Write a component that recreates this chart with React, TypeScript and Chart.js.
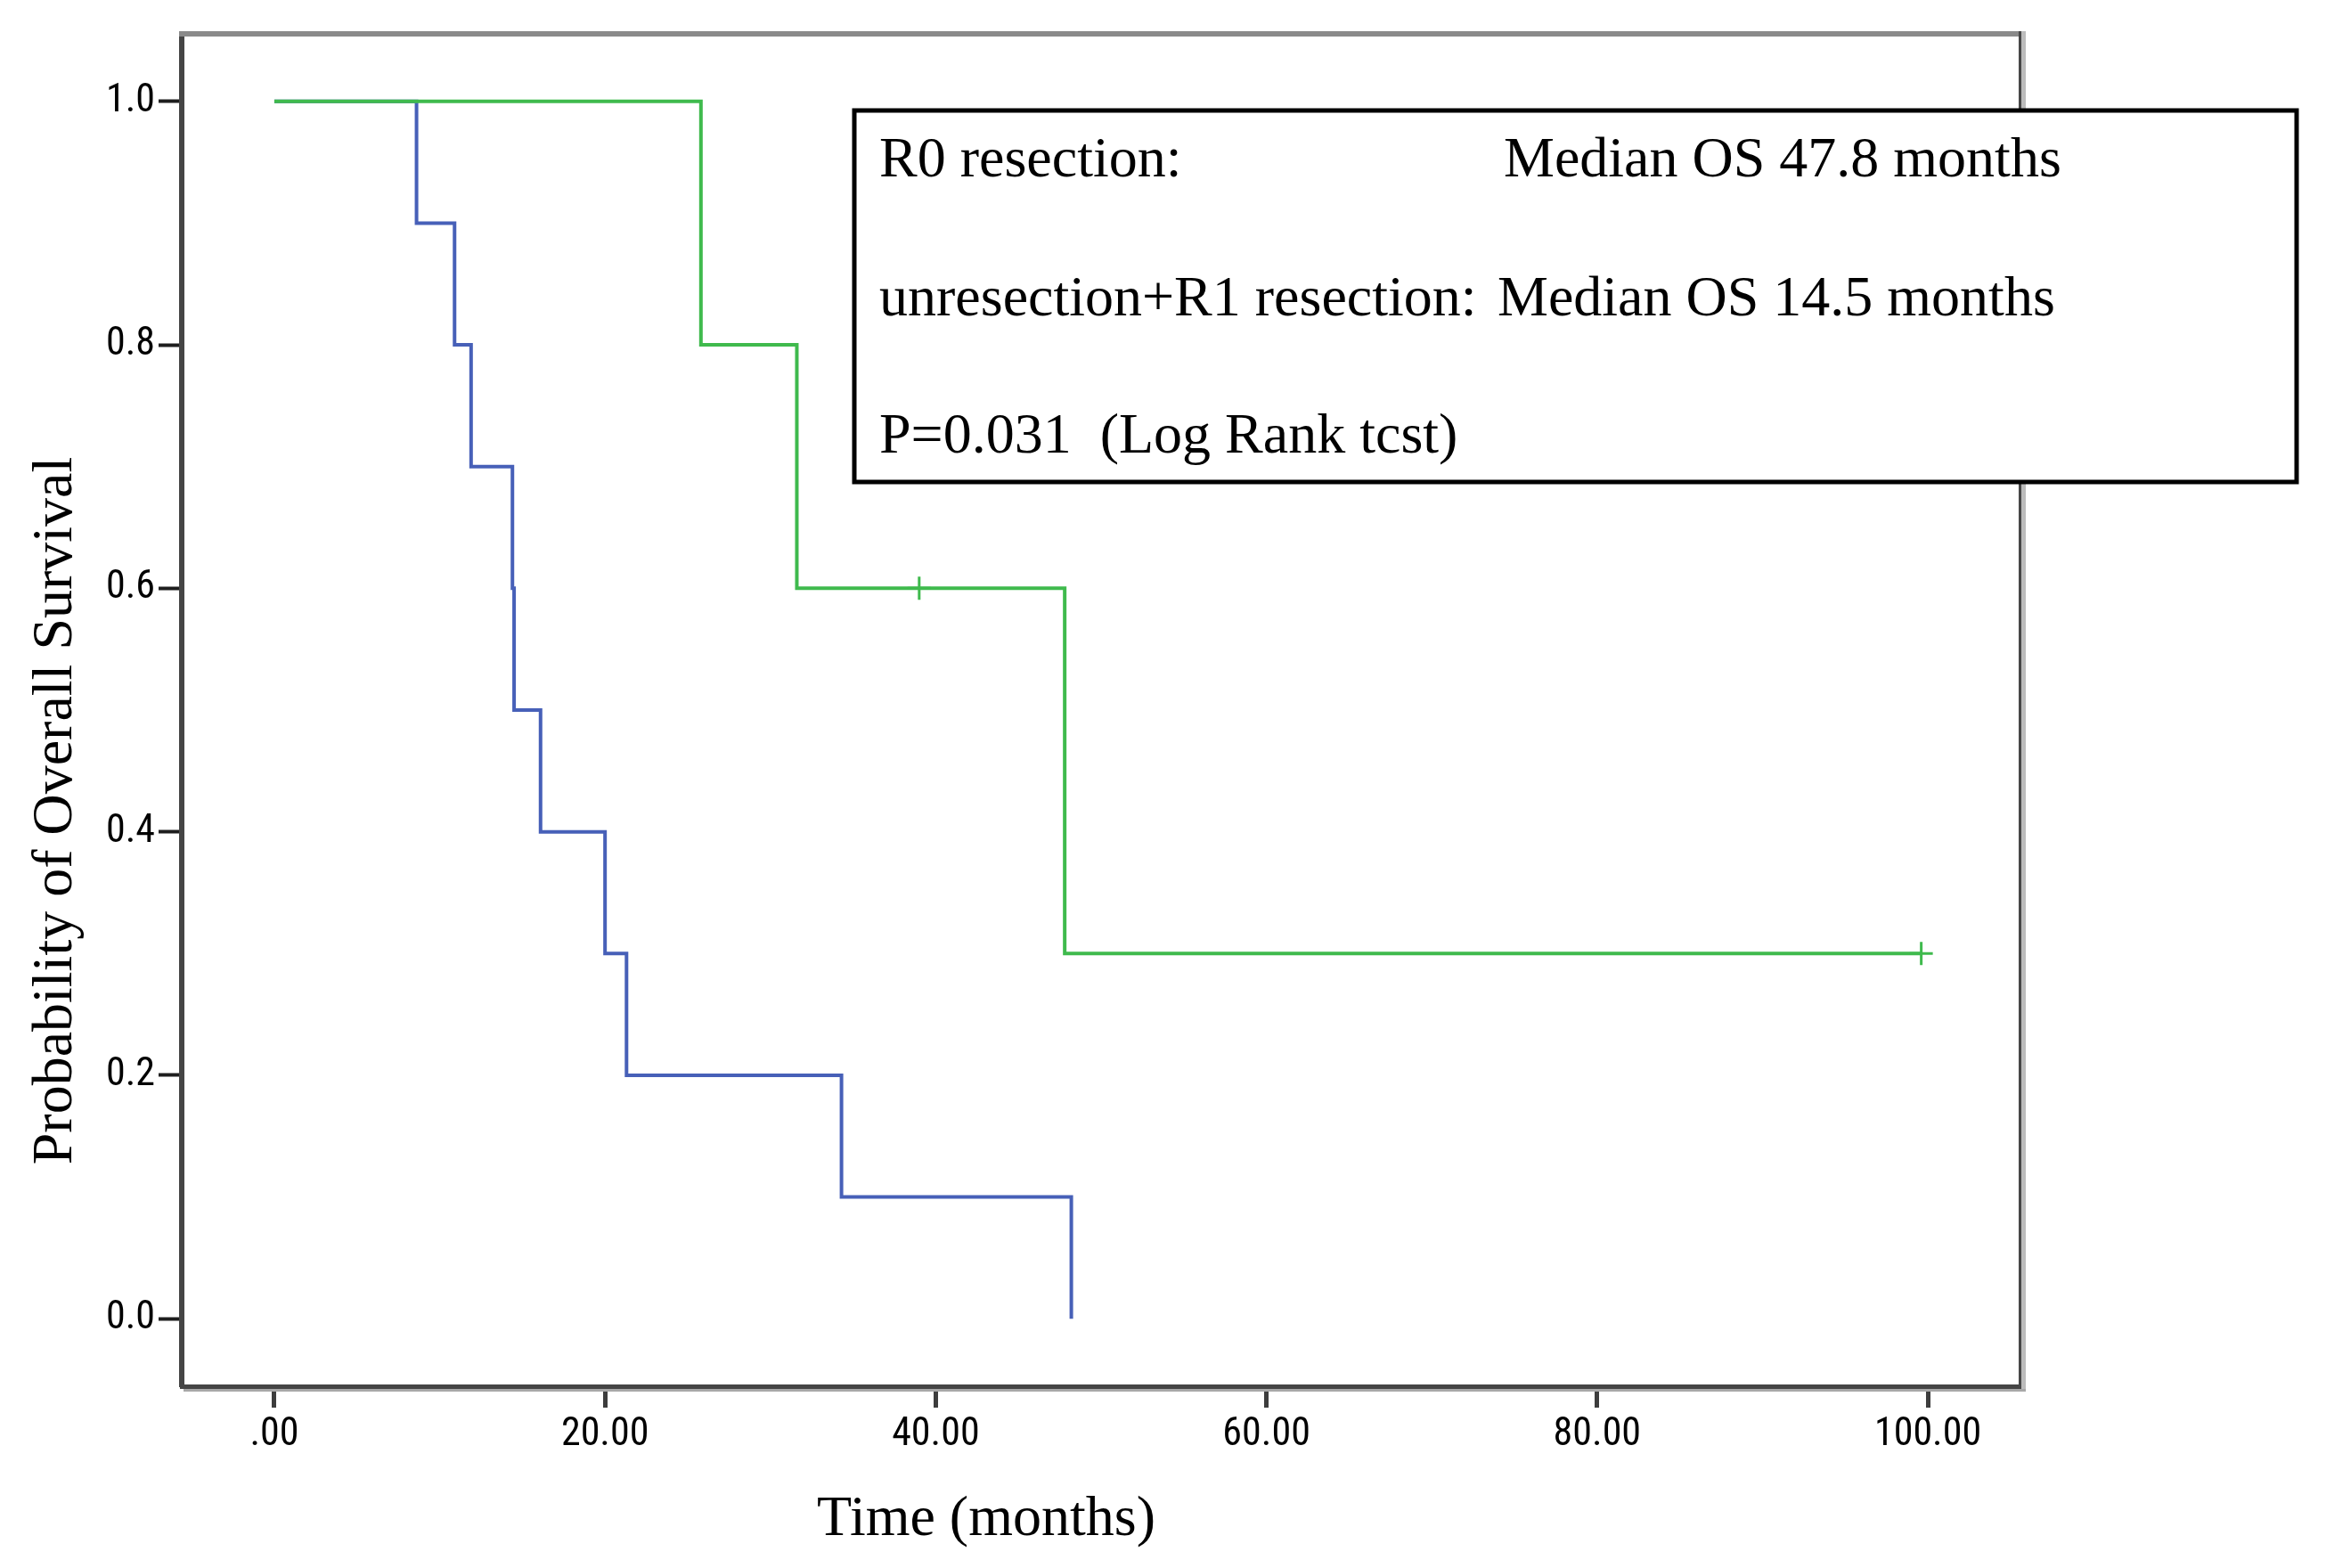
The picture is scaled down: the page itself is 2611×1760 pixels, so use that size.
import React, { useEffect, useRef } from 'react';
import { Chart, registerables } from 'chart.js';

Chart.register(...registerables);

// ---- Data ----
const r0Times = [0, 25.8, 31.6, 39.0, 47.8, 99.6];
const r0Survival = [1.0, 0.8, 0.6, 0.6, 0.3, 0.3];
const r0CensorTimes = [39.0, 99.6];
const r0CensorSurvival = [0.6, 0.3];

const otherTimes = [0, 8.6, 10.9, 11.9, 14.4, 14.5, 16.1, 20.0, 21.3, 34.3, 48.2];
const otherSurvival = [1.0, 0.9, 0.8, 0.7, 0.6, 0.5, 0.4, 0.3, 0.2, 0.1, 0.0];

const xTickValues = [0, 20, 40, 60, 80, 100];
const xTickLabels = ['.00', '20.00', '40.00', '60.00', '80.00', '100.00'];
const yTickValues = [0, 0.2, 0.4, 0.6, 0.8, 1.0];
const yTickLabels = ['0.0', '0.2', '0.4', '0.6', '0.8', '1.0'];

const legendLabels = ['R0 resection:', 'unresection+R1 resection:', 'P=0.031  (Log Rank tcst)'];
const legendValues = ['Median OS 47.8 months', 'Median OS 14.5 months', ''];

const xTitle = 'Time (months)';
const yTitle = 'Probability of Overall Survival';

const GREEN = '#3fba4d';
const BLUE = '#4760b8';
const SERIF = '"Liberation Serif", "Times New Roman", serif';
const NARROW = '"Liberation Sans Narrow", "Arial Narrow", "Roboto Condensed", "DejaVu Sans Condensed", sans-serif';

const toPoints = (xs: number[], ys: number[]) => xs.map((x, i) => ({ x, y: ys[i] }));

const overlayPlugin = {
  id: 'overlay',
  afterDraw(chart: any) {
    const { ctx, chartArea: a } = chart;
    ctx.save();
    // top frame line
    ctx.fillStyle = '#8a8a8a';
    ctx.fillRect(a.left - 3, a.top - 3, a.right - a.left + 6, 6);
    // right frame line (dark + light shade)
    ctx.fillStyle = '#474747';
    ctx.fillRect(a.right - 2, a.top - 3, 3, a.bottom - a.top + 4);
    ctx.fillStyle = '#bcbcbc';
    ctx.fillRect(a.right + 1, a.top - 3, 5, a.bottom - a.top + 8);
    // bottom shade
    ctx.fillStyle = '#a8a8a8';
    ctx.fillRect(a.left + 2, a.bottom + 3, a.right - a.left + 4, 3);

    // legend / annotation box
    ctx.fillStyle = '#ffffff';
    ctx.fillRect(959, 124, 1619, 417);
    ctx.strokeStyle = '#000000';
    ctx.lineWidth = 5;
    ctx.strokeRect(959, 124, 1619, 417);

    ctx.fillStyle = '#000000';
    ctx.font = `64px ${SERIF}`;
    ctx.textAlign = 'left';
    ctx.textBaseline = 'alphabetic';
    const baselines = [198, 354, 508];
    const valueX = [1688, 1681, 1681];
    legendLabels.forEach((t, i) => ctx.fillText(t, 987, baselines[i]));
    legendValues.forEach((t, i) => { if (t) ctx.fillText(t, valueX[i], baselines[i]); });

    // axis titles
    ctx.textAlign = 'center';
    ctx.fillText(xTitle, 1107, 1723);
    ctx.save();
    ctx.translate(80, 910);
    ctx.rotate(-Math.PI / 2);
    ctx.fillText(yTitle, 0, 0);
    ctx.restore();

    ctx.restore();
  },
};

export default function App() {
  const canvasRef = useRef<HTMLCanvasElement | null>(null);

  useEffect(() => {
    document.body.style.margin = '0';
    document.body.style.background = '#ffffff';
    const canvas = canvasRef.current;
    if (!canvas) return;
    const chart = new Chart(canvas, {
      type: 'line',
      data: {
        datasets: [
          {
            type: 'scatter',
            label: 'R0 censored',
            data: toPoints(r0CensorTimes, r0CensorSurvival),
            showLine: false,
            pointStyle: 'cross',
            pointRadius: 13,
            pointBorderWidth: 3,
            borderColor: GREEN,
            backgroundColor: GREEN,
            pointBorderColor: GREEN,
          } as any,
          {
            label: 'R0 resection',
            data: toPoints(r0Times, r0Survival),
            stepped: 'before',
            borderColor: GREEN,
            borderWidth: 4,
            pointRadius: 0,
            fill: false,
          },
          {
            label: 'unresection+R1 resection',
            data: toPoints(otherTimes, otherSurvival),
            stepped: 'before',
            borderColor: BLUE,
            borderWidth: 4,
            pointRadius: 0,
            fill: false,
          },
        ],
      },
      options: {
        animation: false,
        responsive: false,
        maintainAspectRatio: false,
        layout: { padding: { left: 0, top: 38, right: 343, bottom: 0 } },
        plugins: {
          legend: { display: false },
          tooltip: { enabled: false },
          title: { display: false },
        },
        scales: {
          x: {
            type: 'linear',
            min: -5.6,
            max: 105.6,
            afterBuildTicks: (scale: any) => {
              scale.ticks = xTickValues.map((v) => ({ value: v }));
            },
            afterFit: (scale: any) => {
              scale.height = 204;
            },
            ticks: {
              color: '#000000',
              font: { family: NARROW, size: 44 },
              padding: 5,
              maxRotation: 0,
              autoSkip: false,
              callback: (v: any) => {
                const i = xTickValues.indexOf(Number(v));
                return i >= 0 ? xTickLabels[i] : '';
              },
            },
            grid: {
              display: true,
              drawOnChartArea: false,
              drawTicks: true,
              tickLength: 24,
              tickWidth: 5,
              tickColor: '#3d3d3d',
            },
            border: { display: true, color: '#454545', width: 5 },
          },
          y: {
            type: 'linear',
            min: -0.0555,
            max: 1.0555,
            afterBuildTicks: (scale: any) => {
              scale.ticks = yTickValues.map((v) => ({ value: v }));
            },
            afterFit: (scale: any) => {
              scale.width = 204;
            },
            ticks: {
              color: '#000000',
              font: { family: NARROW, size: 44 },
              padding: 4,
              autoSkip: false,
              callback: (v: any) => {
                const i = yTickValues.findIndex((t) => Math.abs(t - Number(v)) < 1e-9);
                return i >= 0 ? yTickLabels[i] : '';
              },
            },
            grid: {
              display: true,
              drawOnChartArea: false,
              drawTicks: true,
              tickLength: 26,
              tickWidth: 4,
              tickColor: '#1e1e1e',
            },
            border: { display: true, color: '#454545', width: 6 },
          },
        },
      },
      plugins: [overlayPlugin],
    });
    return () => chart.destroy();
  }, []);

  return (
    <div style={{ position: 'absolute', left: 0, top: 0, width: 2611, height: 1760, background: '#fff' }}>
      <canvas ref={canvasRef} width={2611} height={1760} style={{ display: 'block' }} />
    </div>
  );
}
